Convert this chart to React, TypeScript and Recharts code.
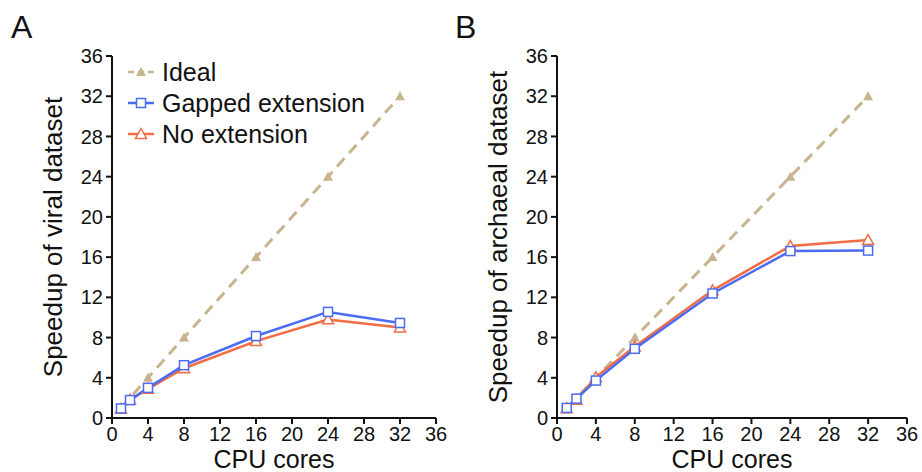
import React from 'react';
import { LineChart, Line, XAxis, YAxis, Label } from 'recharts';

const cores = [1, 2, 4, 8, 16, 24, 32];
const idealSpeedup = [1, 2, 4, 8, 16, 24, 32];
const viralGapped = [0.95, 1.78, 3.0, 5.25, 8.15, 10.55, 9.45];
const viralNoExt = [0.9, 1.8, 2.9, 4.95, 7.65, 9.8, 9.0];
const archaealGapped = [1.0, 1.92, 3.72, 6.88, 12.38, 16.6, 16.65];
const archaealNoExt = [0.95, 1.8, 4.05, 7.1, 12.7, 17.1, 17.7];
const axisTicks = [0, 4, 8, 12, 16, 20, 24, 28, 32, 36];

const seriesNames = ['Ideal', 'Gapped extension', 'No extension'];
const IDEAL_COLOR = '#c8b48e';
const GAPPED_COLOR = '#4b6cf2';
const NOEXT_COLOR = '#f26d45';
const FONT = '"Liberation Sans", Arial, Helvetica, sans-serif';

const buildData = (gapped: number[], noext: number[]) =>
  cores.map((c, i) => ({ cores: c, ideal: idealSpeedup[i], gapped: gapped[i], noext: noext[i] }));

const viralData = buildData(viralGapped, viralNoExt);
const archaealData = buildData(archaealGapped, archaealNoExt);

const FilledTri = (props: any) => {
  const { cx, cy } = props;
  if (cx == null || cy == null) return null;
  const s = 5;
  return <path d={`M${cx},${cy - s} L${cx + s},${cy + s * 0.8} L${cx - s},${cy + s * 0.8} Z`} fill={IDEAL_COLOR} stroke="none" />;
};
const OpenTri = (props: any) => {
  const { cx, cy } = props;
  if (cx == null || cy == null) return null;
  const s = 5.5;
  return <path d={`M${cx},${cy - s} L${cx + s},${cy + s * 0.8} L${cx - s},${cy + s * 0.8} Z`} fill="#fff" stroke={NOEXT_COLOR} strokeWidth={1.5} />;
};
const OpenSq = (props: any) => {
  const { cx, cy } = props;
  if (cx == null || cy == null) return null;
  const s = 4.5;
  return <rect x={cx - s} y={cy - s} width={2 * s} height={2 * s} fill="#fff" stroke={GAPPED_COLOR} strokeWidth={1.5} />;
};

const LegendBox = () => {
  const rows = [
    { name: seriesNames[0], color: IDEAL_COLOR, dash: '6 4', marker: 'ftri' },
    { name: seriesNames[1], color: GAPPED_COLOR, dash: undefined, marker: 'sq' },
    { name: seriesNames[2], color: NOEXT_COLOR, dash: undefined, marker: 'otri' },
  ];
  return (
    <div style={{ position: 'absolute', left: 126, top: 56, fontFamily: FONT, fontSize: 25, color: '#111', lineHeight: '32px' }}>
      {rows.map((r) => (
        <div key={r.name} style={{ display: 'flex', alignItems: 'center', height: 31 }}>
          <svg width={30} height={20} style={{ marginRight: 6 }}>
            <line x1={2} y1={10} x2={28} y2={10} stroke={r.color} strokeWidth={2.5} strokeDasharray={r.dash} />
            {r.marker === 'ftri' && <FilledTri cx={15} cy={10} />}
            {r.marker === 'sq' && <OpenSq cx={15} cy={10} />}
            {r.marker === 'otri' && <OpenTri cx={15} cy={10} />}
          </svg>
          <span>{r.name}</span>
        </div>
      ))}
    </div>
  );
};

const Panel = ({ data, yTitle, margin, width }: any) => (
  <LineChart width={width} height={472} data={data} margin={margin}>
    <XAxis
      dataKey="cores"
      type="number"
      domain={[0, 36]}
      ticks={axisTicks}
      interval={0}
      allowDataOverflow
      stroke="#111"
      strokeWidth={2}
      tickSize={6}
      tickMargin={3}
      height={30}
      tick={{ fill: '#111', fontSize: 20, fontFamily: FONT }}
    >
      <Label
        value="CPU cores"
        position="bottom"
        offset={2}
        style={{ fontSize: 25, fill: '#111', fontFamily: FONT }}
      />
    </XAxis>
    <YAxis
      type="number"
      domain={[0, 36]}
      ticks={axisTicks}
      interval={0}
      allowDataOverflow
      stroke="#111"
      strokeWidth={2}
      tickSize={6}
      tickMargin={3}
      width={60}
      tick={{ fill: '#111', fontSize: 20, fontFamily: FONT }}
    >
      <Label
        value={yTitle}
        angle={-90}
        position="insideLeft"
        offset={1}
        style={{ fontSize: 26, fill: '#111', fontFamily: FONT, textAnchor: 'middle' }}
      />
    </YAxis>
    <Line
      dataKey="ideal"
      name={seriesNames[0]}
      stroke={IDEAL_COLOR}
      strokeWidth={3}
      strokeDasharray="11 7"
      dot={<FilledTri />}
      activeDot={false}
      isAnimationActive={false}
    />
    <Line
      dataKey="noext"
      name={seriesNames[2]}
      stroke={NOEXT_COLOR}
      strokeWidth={2.5}
      dot={<OpenTri />}
      activeDot={false}
      isAnimationActive={false}
    />
    <Line
      dataKey="gapped"
      name={seriesNames[1]}
      stroke={GAPPED_COLOR}
      strokeWidth={2.5}
      dot={<OpenSq />}
      activeDot={false}
      isAnimationActive={false}
    />
  </LineChart>
);

export default function App() {
  return (
    <div style={{ position: 'absolute', left: 0, top: 0, width: 922, height: 472, background: '#fff', overflow: 'hidden' }}>
      <div style={{ position: 'absolute', left: 0, top: 0 }}>
        <Panel data={viralData} yTitle="Speedup of viral dataset" width={460}
          margin={{ top: 56, right: 24, bottom: 24, left: 52 }} />
      </div>
      <LegendBox />
      <div style={{ position: 'absolute', left: 460, top: 0 }}>
        <Panel data={archaealData} yTitle="Speedup of archaeal dataset" width={462}
          margin={{ top: 56, right: 15, bottom: 24, left: 37 }} />
      </div>
      <svg width={922} height={60} style={{ position: 'absolute', left: 0, top: 0, pointerEvents: 'none' }}>
        <text x={11} y={38} fontSize={32} fontFamily={FONT} fill="#111">A</text>
        <text x={455} y={38} fontSize={32} fontFamily={FONT} fill="#111">B</text>
      </svg>
    </div>
  );
}
